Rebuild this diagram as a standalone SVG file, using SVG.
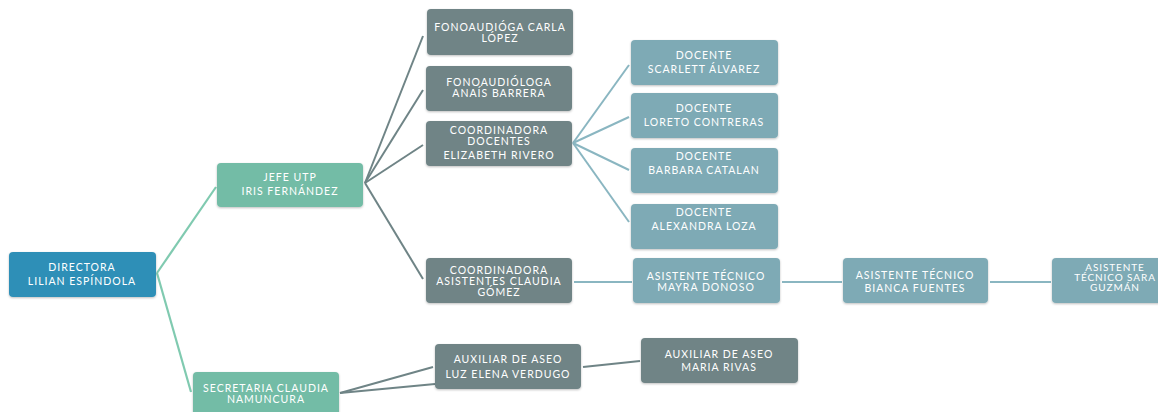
<svg xmlns="http://www.w3.org/2000/svg" width="1158" height="412" viewBox="0 0 1158 412">
<defs>
<filter id="sh" x="-10%" y="-10%" width="120%" height="130%">
<feDropShadow dx="0" dy="1" stdDeviation="1" flood-color="#000" flood-opacity="0.25"/>
</filter>
</defs>
<style>
rect{rx:4px;ry:4px;filter:url(#sh)}
.dir{fill:#2f8fb7}
.grn{fill:#73bca6}
.gry{fill:#6f8486}
.blu{fill:#7eaab5}
text{font-family:Lato,"Open Sans","Liberation Sans",sans-serif;font-size:10.5px;letter-spacing:1px;fill:#ffffff;text-anchor:middle}
.sm{font-size:10px;letter-spacing:0.9px}
.lg{stroke:#80cab0;stroke-width:2.2;fill:none}
.ly{stroke:#6f8486;stroke-width:2;fill:none}
.lb{stroke:#8ab6c1;stroke-width:2;fill:none}
</style>
<rect width="1158" height="412" fill="#ffffff" style="filter:none"/>
<g id="connectors">
<line class="lg" x1="157" y1="273" x2="216" y2="187"/>
<line class="lg" x1="157" y1="273" x2="191" y2="392"/>
<line class="ly" x1="365" y1="183" x2="423" y2="36"/>
<line class="ly" x1="365" y1="183" x2="423" y2="90"/>
<line class="ly" x1="365" y1="183" x2="423" y2="145"/>
<line class="ly" x1="365" y1="183" x2="423" y2="279"/>
<line class="lb" x1="573" y1="143" x2="629" y2="65"/>
<line class="lb" x1="573" y1="143" x2="629" y2="117"/>
<line class="lb" x1="573" y1="143" x2="629" y2="170"/>
<line class="lb" x1="573" y1="143" x2="629" y2="222"/>
<line class="lb" x1="574" y1="282" x2="632" y2="282"/>
<line class="lb" x1="782" y1="282" x2="842" y2="282"/>
<line class="lb" x1="990" y1="282" x2="1051" y2="282"/>
<line class="ly" x1="340" y1="393" x2="433" y2="367"/>
<line class="ly" x1="340" y1="393" x2="435" y2="384"/>
<line class="ly" x1="583" y1="367" x2="640" y2="361"/>
</g>
<g id="directora"><rect class="dir" x="9" y="252" width="147" height="45"/><text x="82" y="271">DIRECTORA</text><text x="82" y="285">LILIAN ESPÍNDOLA</text></g>
<g id="jefe-utp"><rect class="grn" x="217" y="163" width="146" height="44"/><text x="290" y="181">JEFE UTP</text><text x="290" y="195">IRIS FERNÁNDEZ</text></g>
<g id="secretaria"><rect class="grn" x="193" y="372" width="146" height="46"/><text x="266" y="392">SECRETARIA CLAUDIA</text><text x="266" y="403">NAMUNCURA</text></g>
<g id="fono-carla"><rect class="gry" x="427" y="9" width="146" height="46"/><text x="500" y="31">FONOAUDIÓGA CARLA</text><text x="500" y="42">LÓPEZ</text></g>
<g id="fono-anais"><rect class="gry" x="426" y="66" width="146" height="45"/><text x="499" y="86">FONOAUDIÓLOGA</text><text x="499" y="97">ANAÍS BARRERA</text></g>
<g id="coord-docentes"><rect class="gry" x="426" y="121" width="146" height="45"/><text x="499" y="134">COORDINADORA</text><text x="499" y="145">DOCENTES</text><text x="499" y="159">ELIZABETH RIVERO</text></g>
<g id="docente-scarlett"><rect class="blu" x="631" y="40" width="147" height="45"/><text x="704" y="59">DOCENTE</text><text x="704" y="73">SCARLETT ÁLVAREZ</text></g>
<g id="docente-loreto"><rect class="blu" x="631" y="93" width="147" height="45"/><text x="704" y="112">DOCENTE</text><text x="704" y="126">LORETO CONTRERAS</text></g>
<g id="docente-barbara"><rect class="blu" x="631" y="148" width="147" height="45"/><text x="704" y="160">DOCENTE</text><text x="704" y="174">BARBARA CATALAN</text></g>
<g id="docente-alexandra"><rect class="blu" x="631" y="204" width="147" height="45"/><text x="704" y="216">DOCENTE</text><text x="704" y="230">ALEXANDRA LOZA</text></g>
<g id="coord-asistentes"><rect class="gry" x="426" y="258" width="146" height="45"/><text x="499" y="274">COORDINADORA</text><text x="499" y="285">ASISTENTES CLAUDIA</text><text x="499" y="296">GÓMEZ</text></g>
<g id="asistente-mayra"><rect class="blu" x="633" y="258" width="147" height="45"/><text x="706" y="280">ASISTENTE TÉCNICO</text><text x="706" y="291">MAYRA DONOSO</text></g>
<g id="asistente-bianca"><rect class="blu" x="843" y="258" width="145" height="45"/><text x="915" y="279">ASISTENTE TÉCNICO</text><text x="915" y="292">BIANCA FUENTES</text></g>
<g id="asistente-sara"><rect class="blu" x="1052" y="258" width="146" height="45"/><text class="sm" x="1115" y="271">ASISTENTE</text><text class="sm" x="1115" y="281">TÉCNICO SARA</text><text class="sm" x="1115" y="291">GUZMÁN</text></g>
<g id="auxiliar-luz"><rect class="gry" x="435" y="344" width="146" height="45"/><text x="508" y="363">AUXILIAR DE ASEO</text><text x="508" y="378">LUZ ELENA VERDUGO</text></g>
<g id="auxiliar-maria"><rect class="gry" x="641" y="338" width="157" height="45"/><text x="719" y="358">AUXILIAR DE ASEO</text><text x="719" y="371">MARIA RIVAS</text></g>
</svg>
